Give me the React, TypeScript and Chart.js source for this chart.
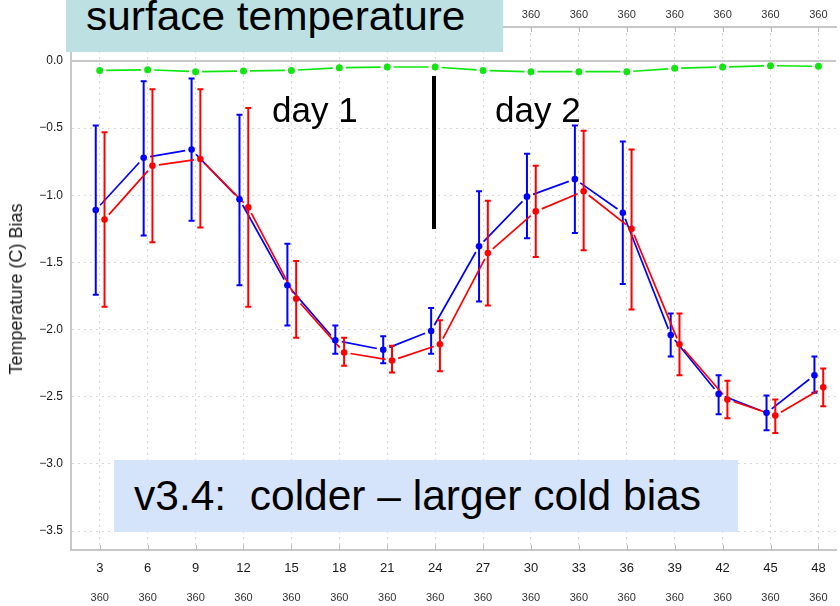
import React, { useEffect, useRef } from "react";
import { Chart, registerables } from "chart.js";

Chart.register(...registerables);

// ---- data ----
const hours = [3, 6, 9, 12, 15, 18, 21, 24, 27, 30, 33, 36, 39, 42, 45, 48];
const countLabels = ["360", "360", "360", "360", "360", "360", "360", "360", "360", "360", "360", "360", "360", "360", "360", "360"];
const topLabels = ["360", "360", "360", "360", "360", "360", "360", "360", "360", "360", "360", "360", "360", "360", "360", "360"];
const yTickValues = [0, -0.5, -1, -1.5, -2, -2.5, -3, -3.5];

const blueMean = [-1.11, -0.72, -0.66, -1.03, -1.67, -2.08, -2.15, -2.01, -1.38, -1.01, -0.88, -1.13, -2.04, -2.48, -2.62, -2.34];
const blueHigh = [-0.48, -0.15, -0.13, -0.4, -1.36, -1.97, -2.05, -1.84, -0.97, -0.69, -0.48, -0.6, -1.88, -2.34, -2.49, -2.2];
const blueLow = [-1.74, -1.3, -1.19, -1.67, -1.97, -2.18, -2.25, -2.18, -1.79, -1.32, -1.28, -1.66, -2.2, -2.63, -2.75, -2.47];

const redMean = [-1.18, -0.78, -0.73, -1.09, -1.77, -2.17, -2.23, -2.11, -1.43, -1.12, -0.97, -1.25, -2.11, -2.52, -2.64, -2.43];
const redHigh = [-0.53, -0.21, -0.21, -0.35, -1.49, -2.06, -2.12, -1.93, -1.04, -0.78, -0.52, -0.66, -1.88, -2.38, -2.52, -2.29];
const redLow = [-1.83, -1.35, -1.24, -1.83, -2.06, -2.27, -2.32, -2.31, -1.82, -1.46, -1.41, -1.85, -2.34, -2.66, -2.77, -2.57];

const greenMean = [-0.07, -0.065, -0.08, -0.075, -0.07, -0.05, -0.045, -0.045, -0.07, -0.08, -0.08, -0.08, -0.055, -0.045, -0.035, -0.04];

const blueOffset = -0.25;
const redOffset = 0.3;

const X_MIN = 1.2;
const X_MAX = 49.1;
const Y_MIN = -3.641;
const Y_MAX = 0.253;

const FONT = "'Liberation Sans', Arial, Helvetica, sans-serif";
const BLUE = "#0000ff";
const RED = "#ff0000";
const GREEN = "#11e611";
const GRID = "#d6d6d6";
const AXIS = "#c8c8c8";

const overlayPlugin = {
  id: "overlayPlugin",
  beforeDatasetsDraw(chart: any) {
    const { ctx, chartArea: a, scales } = chart;
    const x = scales.x;
    const y = scales.y;
    ctx.save();
    // zero line
    const y0 = y.getPixelForValue(0);
    ctx.strokeStyle = AXIS;
    ctx.lineWidth = 2;
    ctx.setLineDash([]);
    ctx.beginPath();
    ctx.moveTo(a.left, y0);
    ctx.lineTo(a.right, y0);
    ctx.stroke();
    // inner tick marks on top and bottom axes
    ctx.strokeStyle = "#bdbdbd";
    ctx.lineWidth = 1;
    ctx.beginPath();
    hours.forEach((h) => {
      const px = Math.round(x.getPixelForValue(h)) + 0.5;
      ctx.moveTo(px, a.bottom);
      ctx.lineTo(px, a.bottom - 5);
      ctx.moveTo(px, a.top);
      ctx.lineTo(px, a.top + 5);
    });
    ctx.stroke();

    const order = [2, 1, 0];
    order.forEach((i) => {
      const ds = chart.data.datasets[i];
      const meta = chart.getDatasetMeta(i);
      const pts = meta.data;
      // error bars
      if (ds.errHigh && ds.errLow) {
        ctx.strokeStyle = ds.borderColor;
        ctx.lineWidth = 2;
        ctx.beginPath();
        pts.forEach((p: any, k: number) => {
          const px = p.x;
          const yh = y.getPixelForValue(ds.errHigh[k]);
          const yl = y.getPixelForValue(ds.errLow[k]);
          ctx.moveTo(px, yh);
          ctx.lineTo(px, yl);
          ctx.moveTo(px - 3, yh);
          ctx.lineTo(px + 3, yh);
          ctx.moveTo(px - 3, yl);
          ctx.lineTo(px + 3, yl);
        });
        ctx.stroke();
      }
      // connecting segments with gaps
      const g = 6.5;
      ctx.strokeStyle = ds.borderColor;
      ctx.lineWidth = 1.7;
      ctx.beginPath();
      for (let k = 0; k < pts.length - 1; k++) {
        const p = pts[k];
        const q = pts[k + 1];
        const dx = q.x - p.x;
        const dy = q.y - p.y;
        const len = Math.hypot(dx, dy);
        if (len <= 2 * g) continue;
        const ux = dx / len;
        const uy = dy / len;
        ctx.moveTo(p.x + ux * g, p.y + uy * g);
        ctx.lineTo(q.x - ux * g, q.y - uy * g);
      }
      ctx.stroke();
    });
    ctx.restore();
  },
};

export default function App() {
  const ref = useRef<HTMLCanvasElement | null>(null);

  useEffect(() => {
    if (!ref.current) return;
    const setTicks = (s: any) => {
      s.ticks = hours.map((v) => ({ value: v }));
    };
    const chart = new Chart(ref.current, {
      type: "scatter",
      data: {
        datasets: [
          {
            label: "green",
            data: hours.map((h, i) => ({ x: h, y: greenMean[i] })),
            borderColor: GREEN,
            backgroundColor: GREEN,
            pointRadius: 3.5,
            pointBorderWidth: 0,
            showLine: false,
          } as any,
          {
            label: "red",
            data: hours.map((h, i) => ({ x: h + redOffset, y: redMean[i] })),
            borderColor: RED,
            backgroundColor: RED,
            pointRadius: 3.3,
            pointBorderWidth: 0,
            showLine: false,
            errHigh: redHigh,
            errLow: redLow,
          } as any,
          {
            label: "blue",
            data: hours.map((h, i) => ({ x: h + blueOffset, y: blueMean[i] })),
            borderColor: BLUE,
            backgroundColor: BLUE,
            pointRadius: 3.3,
            pointBorderWidth: 0,
            showLine: false,
            errHigh: blueHigh,
            errLow: blueLow,
          } as any,
        ],
      },
      options: {
        animation: false,
        responsive: false,
        devicePixelRatio: 1,
        layout: { padding: 0 },
        plugins: { legend: { display: false }, tooltip: { enabled: false } },
        scales: {
          x: {
            type: "linear",
            position: "bottom",
            weight: 0,
            min: X_MIN,
            max: X_MAX,
            afterBuildTicks: setTicks,
            afterFit: (s: any) => {
              s.height = 30;
            },
            ticks: {
              autoSkip: false,
              maxRotation: 0,
              padding: 11,
              color: "#1a1a1a",
              font: { family: FONT, size: 13 },
              callback: (v: any) => String(v),
            },
            grid: { color: GRID, lineWidth: 1, drawTicks: false },
            border: { display: true, color: AXIS, width: 2, dash: [2, 4] },
          },
          xCount: {
            type: "linear",
            position: "bottom",
            weight: 1,
            min: X_MIN,
            max: X_MAX,
            afterBuildTicks: setTicks,
            afterFit: (s: any) => {
              s.height = 26;
            },
            ticks: {
              autoSkip: false,
              maxRotation: 0,
              padding: 11,
              color: "#333",
              font: { family: FONT, size: 11 },
              callback: (_v: any, i: number) => countLabels[i],
            },
            grid: { display: false, drawTicks: false },
            border: { display: false },
          },
          xTop: {
            type: "linear",
            position: "top",
            min: X_MIN,
            max: X_MAX,
            afterBuildTicks: setTicks,
            afterFit: (s: any) => {
              s.height = 27;
            },
            ticks: {
              autoSkip: false,
              maxRotation: 0,
              padding: 5,
              color: "#333",
              font: { family: FONT, size: 11 },
              callback: (_v: any, i: number) => topLabels[i],
            },
            grid: { drawOnChartArea: false, drawTicks: false },
            border: { display: true, color: AXIS, width: 2 },
          },
          y: {
            type: "linear",
            min: Y_MIN,
            max: Y_MAX,
            afterBuildTicks: (s: any) => {
              s.ticks = yTickValues.map((v) => ({ value: v }));
            },
            afterFit: (s: any) => {
              s.width = 71;
            },
            ticks: {
              padding: 8,
              color: "#1a1a1a",
              font: { family: FONT, size: 12 },
              callback: (v: any) => (v === 0 ? "0.0" : "\u2212" + Math.abs(v).toFixed(1)),
            },
            grid: { color: GRID, lineWidth: 1, drawTicks: false },
            border: { display: true, color: AXIS, width: 2, dash: [2, 4] },
          },
        },
      } as any,
      plugins: [overlayPlugin],
    });
    return () => chart.destroy();
  }, []);

  const base: React.CSSProperties = {
    position: "absolute",
    fontFamily: FONT,
    color: "#000",
    whiteSpace: "nowrap",
    lineHeight: 1,
  };

  return (
    <div style={{ position: "fixed", left: 0, top: 0, width: 840, height: 606, overflow: "hidden", background: "#fff" }}>
      <canvas ref={ref} width={840} height={606} style={{ position: "absolute", left: 0, top: 0, width: 840, height: 606 }} />
      {/* title box */}
      <div style={{ position: "absolute", left: 66, top: 0, width: 437, height: 52, background: "#bde0e3" }} />
      <div style={{ ...base, left: 86, top: 30 - 0.8465 * 40, fontSize: 40, transform: "scaleX(1.06)", transformOrigin: "left center" }}>
        surface temperature
      </div>
      {/* day labels */}
      <div style={{ ...base, left: 272, top: 122 - 0.8465 * 35, fontSize: 35 }}>day 1</div>
      <div style={{ ...base, left: 495, top: 122 - 0.8465 * 35, fontSize: 35 }}>day 2</div>
      <div style={{ position: "absolute", left: 432, top: 76, width: 4, height: 153, background: "#000" }} />
      {/* bottom note */}
      <div style={{ position: "absolute", left: 114, top: 460, width: 624, height: 72, background: "#d5e3fb" }} />
      <div style={{ ...base, left: 134, top: 511 - 0.8465 * 42.5, fontSize: 42.5 }}>v3.4:&nbsp; colder – larger cold bias</div>
      {/* y axis title */}
      <div
        style={{
          ...base,
          left: 16,
          top: 289,
          fontSize: 18,
          color: "#1a1a1a",
          transform: "translate(-50%, -50%) rotate(-90deg)",
        }}
      >
        Temperature (C) Bias
      </div>
    </div>
  );
}
